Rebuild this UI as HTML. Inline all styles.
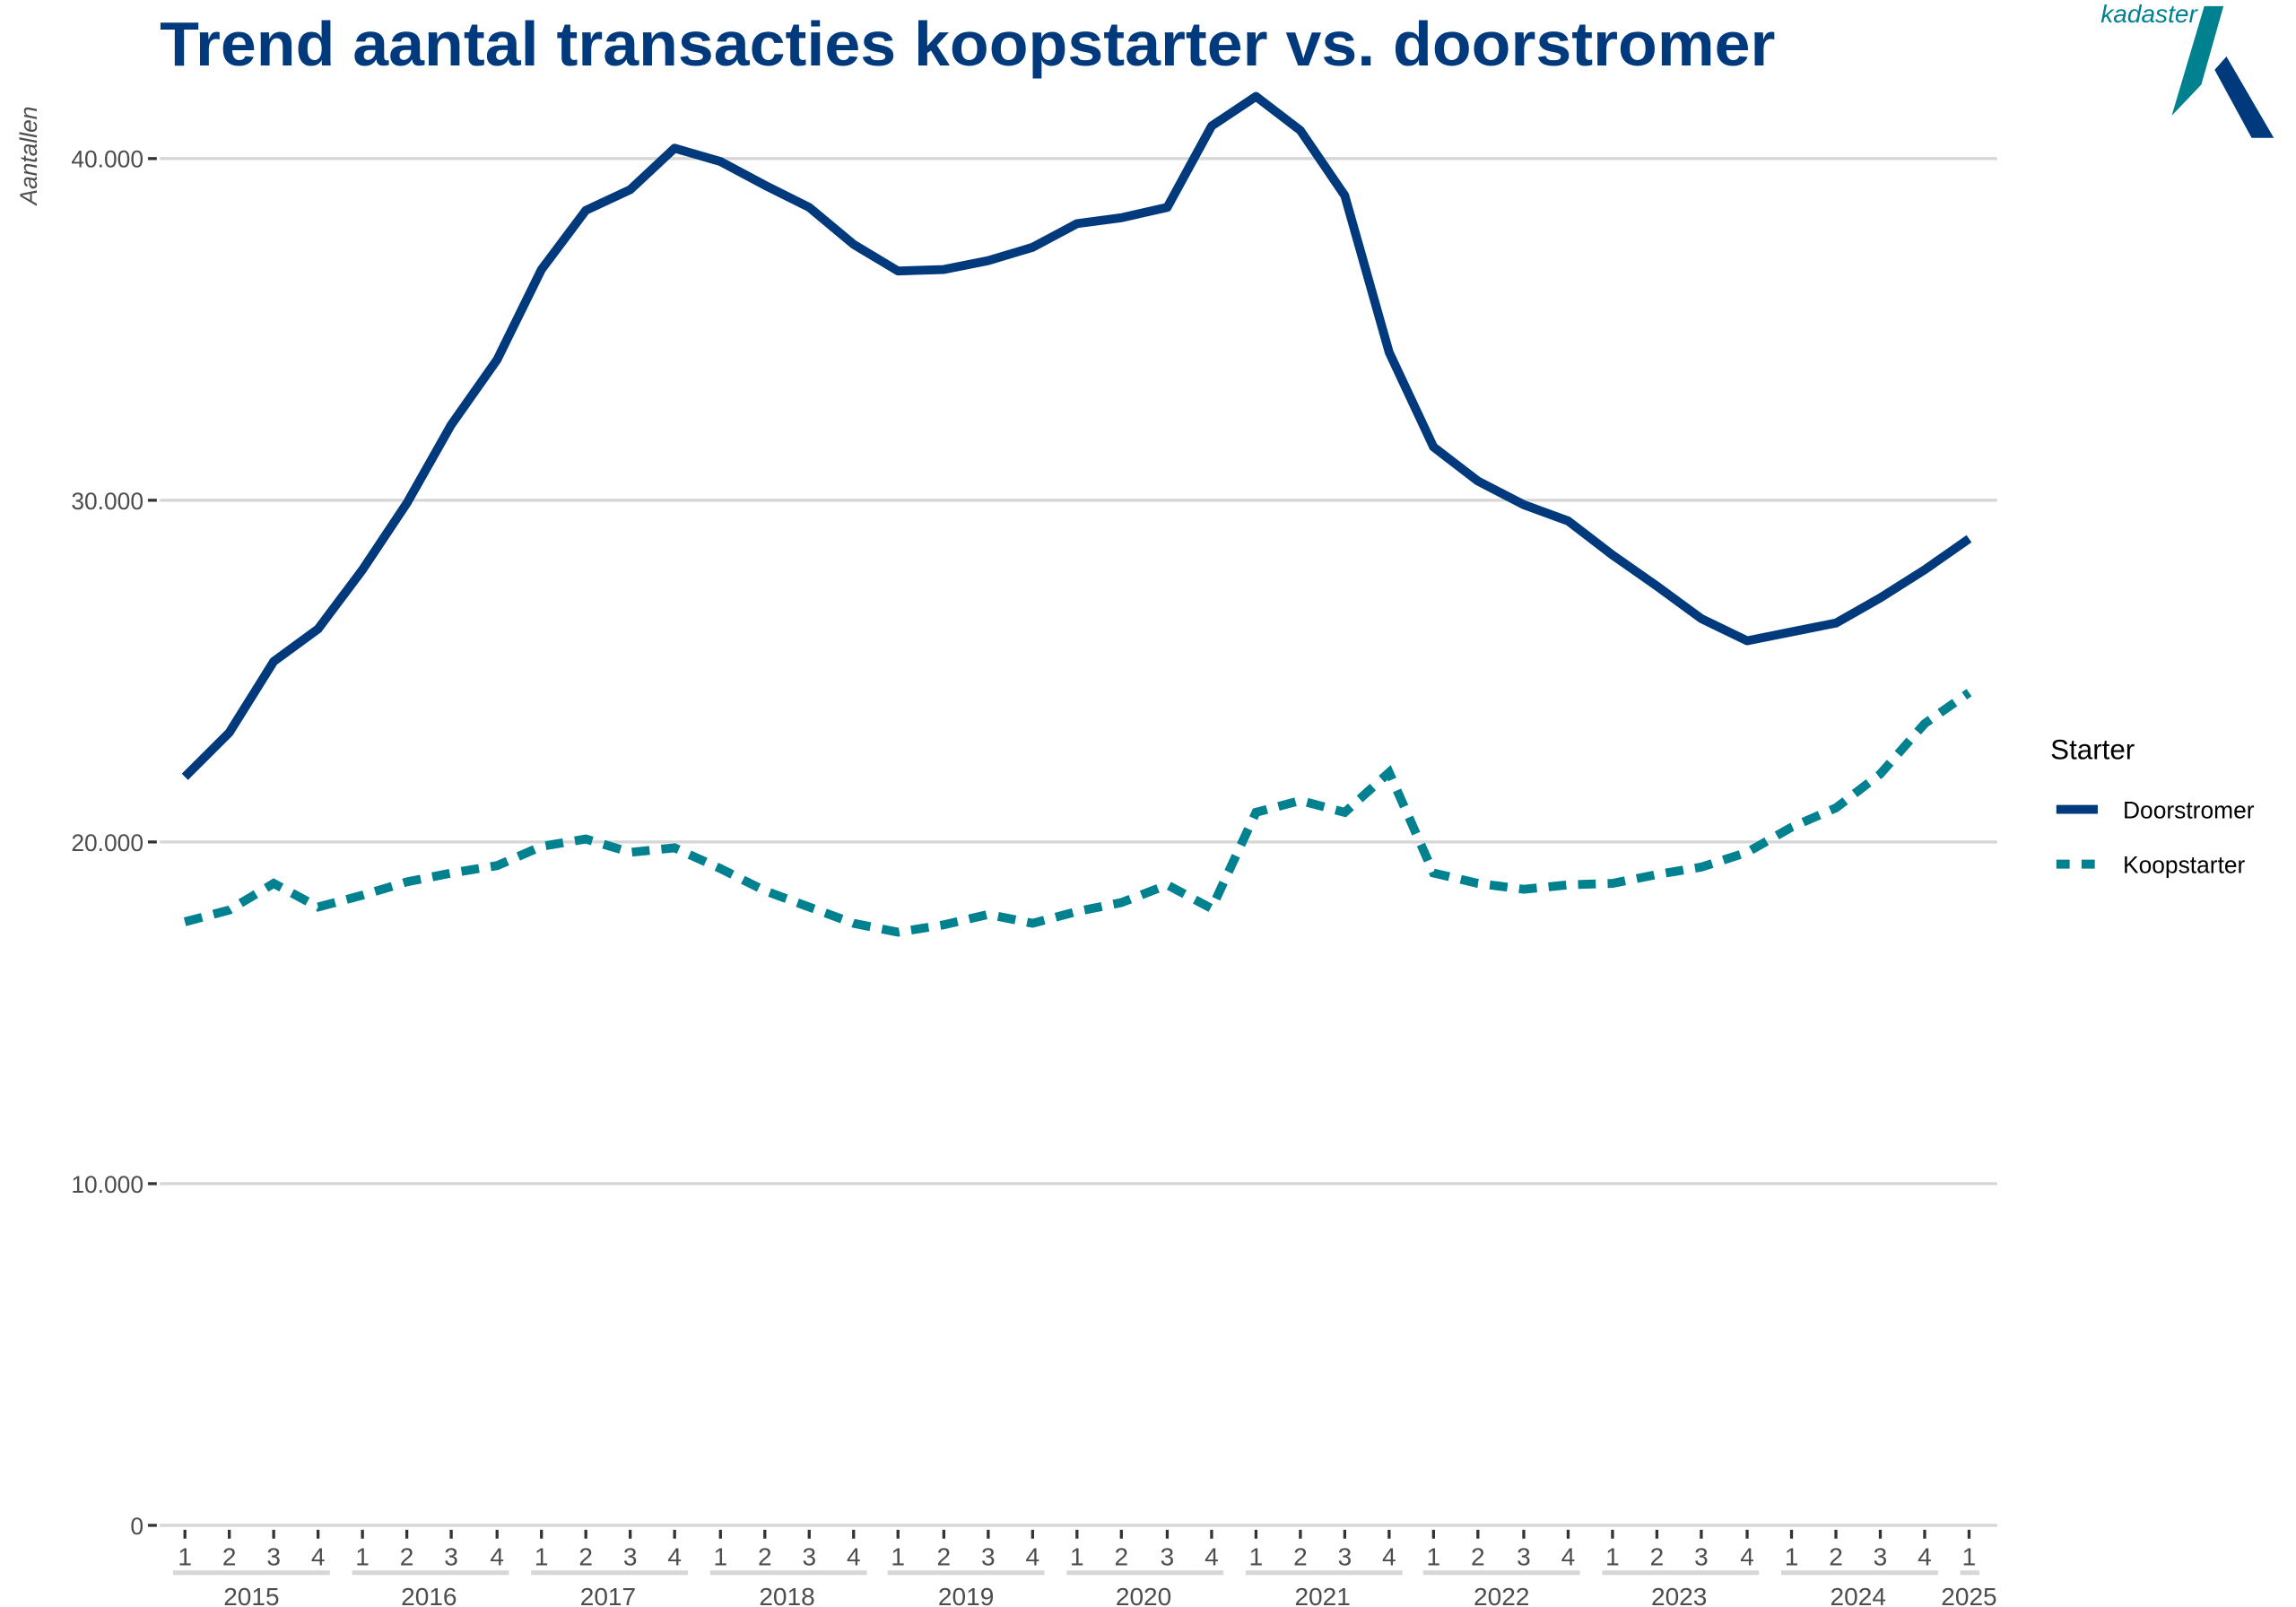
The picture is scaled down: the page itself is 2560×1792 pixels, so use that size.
<!DOCTYPE html>
<html><head><meta charset="utf-8"><style>
html,body{margin:0;padding:0;background:#fff}
svg{display:block}
text{font-family:"Liberation Sans",Arial,sans-serif}
</style></head><body>
<svg width="2560" height="1792" viewBox="0 0 1552 1086" xmlns="http://www.w3.org/2000/svg">
<rect width="1552" height="1086" fill="#fff"/>
<text x="108" y="44" font-size="42" font-weight="bold" fill="#003A7D" textLength="1092" lengthAdjust="spacingAndGlyphs">Trend aantal transacties koopstarter vs. doorstromer</text>
<text x="1420" y="15" font-size="17" font-style="italic" fill="#00818F">kadaster</text>
<polygon points="1490,4 1503,4 1488,57 1468,78" fill="#00818F"/>
<polygon points="1497,47 1505,38 1537,93 1522,93" fill="#003A7D"/>
<g stroke="#d6d6d6" stroke-width="2">
<line x1="108" y1="107" x2="1350" y2="107"/>
<line x1="108" y1="338" x2="1350" y2="338"/>
<line x1="108" y1="569" x2="1350" y2="569"/>
<line x1="108" y1="800" x2="1350" y2="800"/>
<line x1="108" y1="1031" x2="1350" y2="1031"/>
</g>
<g stroke="#333" stroke-width="2">
<line x1="100" y1="107" x2="106" y2="107"/><line x1="100" y1="338" x2="106" y2="338"/><line x1="100" y1="569" x2="106" y2="569"/><line x1="100" y1="800" x2="106" y2="800"/><line x1="100" y1="1031" x2="106" y2="1031"/>
</g>
<g font-size="16" fill="#4d4d4d" text-anchor="end">
<text x="97" y="113">40.000</text><text x="97" y="344">30.000</text><text x="97" y="575">20.000</text><text x="97" y="806">10.000</text><text x="97" y="1037">0</text>
</g>
<text transform="translate(25,105) rotate(-90)" font-size="16" font-style="italic" fill="#4d4d4d" text-anchor="middle">Aantallen</text>
<g stroke="#333" stroke-width="2">
<path d="M125 1034v6M155 1034v6M185 1034v6M215 1034v6M245 1034v6M275 1034v6M305 1034v6M336 1034v6M366 1034v6M396 1034v6M426 1034v6M456 1034v6M487 1034v6M517 1034v6M547 1034v6M577 1034v6M607 1034v6M638 1034v6M668 1034v6M698 1034v6M728 1034v6M758 1034v6M789 1034v6M819 1034v6M849 1034v6M879 1034v6M909 1034v6M939 1034v6M969 1034v6M999 1034v6M1030 1034v6M1060 1034v6M1090 1034v6M1120 1034v6M1150 1034v6M1181 1034v6M1211 1034v6M1241 1034v6M1271 1034v6M1301 1034v6M1331 1034v6"/>
</g>
<g font-size="17" fill="#4d4d4d" text-anchor="middle">
<text x="125" y="1058">1</text><text x="155" y="1058">2</text><text x="185" y="1058">3</text><text x="215" y="1058">4</text>
<text x="245" y="1058">1</text><text x="275" y="1058">2</text><text x="305" y="1058">3</text><text x="336" y="1058">4</text>
<text x="366" y="1058">1</text><text x="396" y="1058">2</text><text x="426" y="1058">3</text><text x="456" y="1058">4</text>
<text x="487" y="1058">1</text><text x="517" y="1058">2</text><text x="547" y="1058">3</text><text x="577" y="1058">4</text>
<text x="607" y="1058">1</text><text x="638" y="1058">2</text><text x="668" y="1058">3</text><text x="698" y="1058">4</text>
<text x="728" y="1058">1</text><text x="758" y="1058">2</text><text x="789" y="1058">3</text><text x="819" y="1058">4</text>
<text x="849" y="1058">1</text><text x="879" y="1058">2</text><text x="909" y="1058">3</text><text x="939" y="1058">4</text>
<text x="969" y="1058">1</text><text x="999" y="1058">2</text><text x="1030" y="1058">3</text><text x="1060" y="1058">4</text>
<text x="1090" y="1058">1</text><text x="1120" y="1058">2</text><text x="1150" y="1058">3</text><text x="1181" y="1058">4</text>
<text x="1211" y="1058">1</text><text x="1241" y="1058">2</text><text x="1271" y="1058">3</text><text x="1301" y="1058">4</text>
<text x="1331" y="1058">1</text>
<text x="170" y="1085">2015</text><text x="290" y="1085">2016</text><text x="411" y="1085">2017</text><text x="532" y="1085">2018</text><text x="653" y="1085">2019</text><text x="773" y="1085">2020</text><text x="894" y="1085">2021</text><text x="1015" y="1085">2022</text><text x="1135" y="1085">2023</text><text x="1256" y="1085">2024</text><text x="1331" y="1085">2025</text>
</g>
<g stroke="#d6d6d6" stroke-width="3">
<path d="M117 1063h106M238 1063h106M359 1063h106M480 1063h106M600 1063h106M721 1063h106M842 1063h106M962 1063h106M1083 1063h106M1204 1063h106M1325 1063h13"/>
</g>
<polyline fill="none" stroke="#003A7D" stroke-width="6" stroke-linejoin="round" points="125,525 155,495 185,447 215,425 245,385 275,340 305,287 336,243 366,182 396,142 426,128 456,100 487,109 517,125 547,140 577,165 607,183 638,182 668,176 698,167 728,151 758,147 789,140 819,85 849,65 879,88 909,132 939,238 969,302 999,325 1030,341 1060,352 1090,375 1120,396 1150,418 1181,433 1211,427 1241,421 1271,404 1301,385 1331,364"/>
<polyline fill="none" stroke="#00818F" stroke-width="6" stroke-dasharray="12,8" points="125,623 155,615 185,597 215,613 245,605 275,596 305,590 336,585 366,572 396,567 426,576 456,573 487,587 517,602 547,613 577,624 607,630 638,625 668,618 698,624 728,616 758,610 789,598 819,614 849,549 879,541 909,549 939,522 969,590 999,597 1030,601 1060,598 1090,597 1120,591 1150,586 1181,576 1211,559 1241,546 1271,523 1301,489 1331,468"/>
<text x="1386" y="513" font-size="19" fill="#000">Starter</text>
<line x1="1390" y1="547" x2="1418" y2="547" stroke="#003A7D" stroke-width="6"/>
<line x1="1390" y1="584" x2="1418" y2="584" stroke="#00818F" stroke-width="6" stroke-dasharray="9,8"/>
<text x="1435" y="553" font-size="16" fill="#000">Doorstromer</text>
<text x="1435" y="590" font-size="16" fill="#000">Koopstarter</text>
</svg>
</body></html>
